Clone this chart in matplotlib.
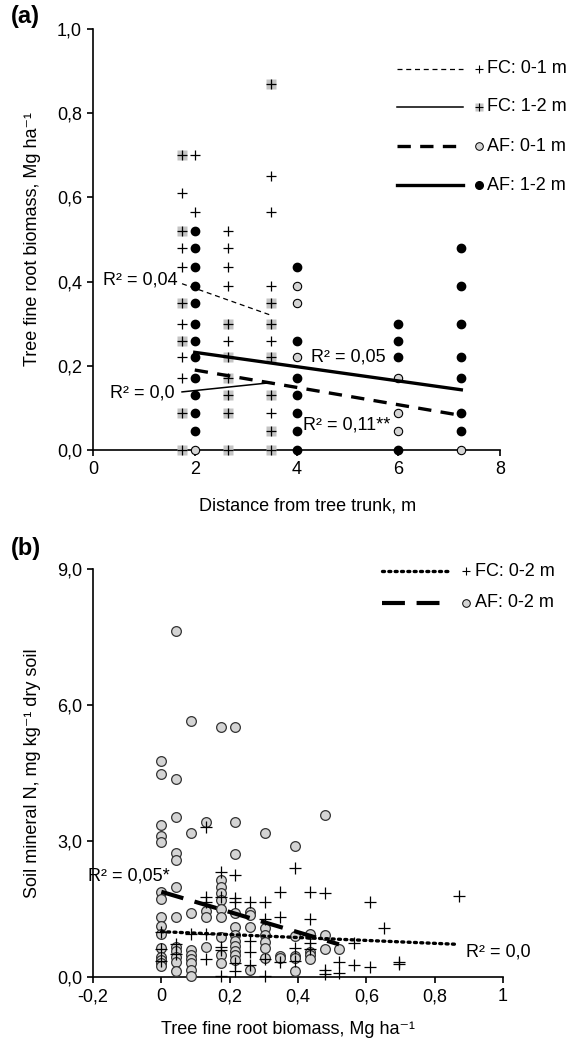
import numpy as np
import matplotlib
matplotlib.use("Agg")
import matplotlib.pyplot as plt

plt.rcParams['font.family'] = ['Liberation Sans', 'DejaVu Sans']
plt.rcParams['font.size'] = 13

# ---- panel (a): fine root biomass vs distance from trunk ----
# FC 0-1 m  (black +)
fc01_a = {
    1.75: [0.61, 0.48, 0.435, 0.30, 0.22, 0.17],
    2.0: [0.70, 0.565],
    2.65: [0.52, 0.48, 0.435, 0.39, 0.26],
    3.5: [0.65, 0.565, 0.39, 0.26, 0.087],
}
# FC 1-2 m  (+ on grey square)
fc12_a = {
    1.75: [0.70, 0.52, 0.35, 0.26, 0.087, 0.0],
    2.65: [0.30, 0.22, 0.17, 0.13, 0.087, 0.0],
    3.5: [0.87, 0.35, 0.30, 0.22, 0.13, 0.044, 0.0],
}
# AF 0-1 m  (grey circle)
af01_a = {
    2.0: [0.0],
    4.0: [0.39, 0.35, 0.22],
    6.0: [0.17, 0.087, 0.044],
    7.24: [0.0],
}
# AF 1-2 m  (black circle)
af12_a = {
    2.0: [0.52, 0.48, 0.435, 0.39, 0.35, 0.30, 0.26, 0.22, 0.17, 0.13, 0.087, 0.044],
    4.0: [0.435, 0.26, 0.17, 0.13, 0.087, 0.044, 0.0],
    6.0: [0.30, 0.26, 0.22, 0.0],
    7.24: [0.48, 0.39, 0.30, 0.22, 0.17, 0.087, 0.044],
}
fit_fc01_a = ([1.75, 3.5], [0.395, 0.32])
fit_fc12_a = ([1.75, 3.5], [0.138, 0.16])
fit_af01_a = ([2.0, 7.24], [0.19, 0.082])
fit_af12_a = ([2.0, 7.24], [0.232, 0.143])

# ---- panel (b): soil mineral N vs fine root biomass ----
af02_b = {
    0.0: [4.77, 4.48, 3.35, 3.12, 2.98, 1.88, 1.72, 1.32, 1.12, 0.95, 0.65, 0.45, 0.37, 0.30, 0.25],
    0.044: [7.64, 4.36, 3.53, 2.73, 2.58, 1.98, 1.32, 0.67, 0.57, 0.45, 0.34, 0.14],
    0.087: [5.65, 3.17, 1.41, 0.60, 0.49, 0.39, 0.30, 0.15, 0.02],
    0.13: [3.42, 1.45, 1.33, 0.66],
    0.174: [5.51, 2.13, 1.99, 1.86, 1.70, 1.50, 1.33, 0.88, 0.49, 0.30],
    0.217: [5.51, 3.43, 2.71, 1.42, 1.10, 0.93, 0.80, 0.68, 0.58, 0.49, 0.37],
    0.26: [1.44, 1.37, 1.10, 0.15],
    0.304: [3.17, 1.07, 0.93, 0.78, 0.63, 0.43],
    0.348: [0.46, 0.43],
    0.391: [2.89, 0.90, 0.46, 0.42, 0.14],
    0.435: [0.95, 0.55, 0.48, 0.40],
    0.478: [3.58, 0.92, 0.61],
    0.52: [0.61],
}
fc02_b = {
    0.0: [1.00, 0.62, 0.35],
    0.044: [0.72, 0.50],
    0.087: [0.95],
    0.13: [3.30, 1.77, 1.66, 0.95, 0.40],
    0.174: [2.32, 1.76, 0.67, 0.60, 0.02],
    0.217: [2.25, 1.74, 1.66, 0.30, 0.13],
    0.26: [1.66, 0.80, 0.56, 0.27],
    0.304: [1.66, 1.29, 0.39, 0.02],
    0.348: [1.88, 1.32, 0.32],
    0.391: [2.40, 0.63, 0.35],
    0.435: [1.88, 1.27, 0.74, 0.62],
    0.478: [1.86, 0.15, 0.07],
    0.52: [0.32, 0.08],
    0.565: [0.74, 0.27],
    0.61: [1.65, 0.21],
    0.653: [1.09],
    0.696: [0.32, 0.28],
    0.87: [1.78],
}
fit_af02_b = ([0.0, 0.52], [1.88, 0.72])
fit_fc02_b = ([0.0, 0.87], [1.0, 0.72])

GREY_FILL = "#d4d4d4"
GREY_SQ = "#c4c4c4"
UNIT = "Mg ha\u207b\u00b9"


def flat(d):
    xs, ys = [], []
    for x, vals in d.items():
        xs += [x] * len(vals)
        ys += vals
    return xs, ys


def style_axes(ax):
    for s in ["top", "right"]:
        ax.spines[s].set_visible(False)
    for s in ["left", "bottom"]:
        ax.spines[s].set_linewidth(1.2)
    ax.tick_params(direction="out", length=4, width=1.2, labelsize=13, pad=4)


def comma(v, nd):
    return f"{v:.{nd}f}".replace(".", ",")


def draw_fc12(ax, x, y, ms=6.5, **kw):
    ax.plot(x, y, "s", ms=ms, color=GREY_SQ, mec="none", clip_on=False, **kw)
    ax.plot(x, y, "+", ms=ms, color="black", mew=0.9, clip_on=False, **kw)


fig = plt.figure(figsize=(5.83, 10.49), dpi=100)

# ================= panel a =================
ax = fig.add_axes([93 / 583, 1 - 450 / 1049, 407 / 583, 421 / 1049])
style_axes(ax)

x, y = flat(fc12_a)
draw_fc12(ax, x, y, zorder=3)
x, y = flat(fc01_a)
ax.plot(x, y, "+", ms=6.5, color="black", mew=0.9, clip_on=False, zorder=3)
x, y = flat(af12_a)
ax.plot(x, y, "o", ms=6, color="black", clip_on=False, zorder=3)
x, y = flat(af01_a)
ax.plot(x, y, "o", ms=6, mfc=GREY_FILL, mec="black", mew=0.8, clip_on=False, zorder=3)

ls_fc01 = dict(color="black", lw=0.9, dashes=(4, 3))
ls_fc12 = dict(color="black", lw=1.1)
ls_af01 = dict(color="black", lw=2.4, dashes=(4, 2.8))
ls_af12 = dict(color="black", lw=2.4)
ax.plot(*fit_fc01_a, zorder=4, **ls_fc01)
ax.plot(*fit_fc12_a, zorder=4, **ls_fc12)
ax.plot(*fit_af01_a, zorder=4, **ls_af01)
ax.plot(*fit_af12_a, zorder=4, **ls_af12)

ax.text(1.67, 0.404, "R² = 0,04", ha="right", va="center", fontsize=13)
ax.text(1.61, 0.135, "R² = 0,0", ha="right", va="center", fontsize=13)
ax.text(4.29, 0.222, "R² = 0,05", ha="left", va="center", fontsize=13)
ax.text(4.13, 0.06, "R² = 0,11**", ha="left", va="center", fontsize=13)

ax.set_xlim(0, 8)
ax.set_ylim(0, 1)
ax.set_xticks([0, 2, 4, 6, 8])
ax.set_yticks(np.arange(0, 1.01, 0.2))
ax.set_yticklabels([comma(v, 1) for v in np.arange(0, 1.01, 0.2)])
ax.set_xlabel("Distance from tree trunk, m", fontsize=13)
ax.set_ylabel("Tree fine root biomass, " + UNIT, fontsize=13)
ax.xaxis.set_label_coords(0.526, -0.112)
ax.yaxis.set_label_coords(-0.128, 0.5)

# legend (a)
rows = [0.905, 0.815, 0.722, 0.629]
labels = ["FC: 0-1 m", "FC: 1-2 m", "AF: 0-1 m", "AF: 1-2 m"]
lstyles = [ls_fc01, ls_fc12, ls_af01, ls_af12]
for i, (r, lab, lst) in enumerate(zip(rows, labels, lstyles)):
    ax.plot([0.747, 0.909], [r, r], transform=ax.transAxes, clip_on=False, **lst)
    if i == 0:
        ax.plot(0.948, r, "+", ms=6, color="black", mew=0.8, transform=ax.transAxes, clip_on=False)
    elif i == 1:
        ax.plot(0.948, r, "s", ms=6, color=GREY_SQ, mec="none", transform=ax.transAxes, clip_on=False)
        ax.plot(0.948, r, "+", ms=6, color="black", mew=0.8, transform=ax.transAxes, clip_on=False)
    elif i == 2:
        ax.plot(0.948, r, "o", ms=5.5, mfc=GREY_FILL, mec="black", mew=0.7, transform=ax.transAxes, clip_on=False)
    else:
        ax.plot(0.948, r, "o", ms=5.5, color="black", transform=ax.transAxes, clip_on=False)
    ax.text(0.968, r, lab, transform=ax.transAxes, ha="left", va="center", fontsize=13)

fig.text(11 / 583, 1 - 16 / 1049, "(a)", fontsize=17, fontweight="bold", va="center")

# ================= panel b =================
bx = fig.add_axes([93 / 583, 1 - 977 / 1049, 410 / 583, 408 / 1049])
style_axes(bx)

x, y = flat(af02_b)
bx.plot(x, y, "o", ms=7, mfc=GREY_FILL, mec="#333333", mew=0.9, clip_on=False, zorder=3)
x, y = flat(fc02_b)
bx.plot(x, y, "+", ms=8, color="black", mew=0.9, clip_on=False, zorder=3)

ls_fc02 = dict(color="black", lw=2.4, linestyle=(0, (0.6, 1.3)), dash_capstyle="round")
ls_af02 = dict(color="black", lw=3.0, dashes=(5.5, 2.8))
bx.plot(*fit_fc02_b, zorder=4, **ls_fc02)
bx.plot(*fit_af02_b, zorder=4, **ls_af02)

bx.text(-0.215, 2.23, "R² = 0,05*", ha="left", va="center", fontsize=13)
bx.text(0.891, 0.56, "R² = 0,0", ha="left", va="center", fontsize=13)

bx.set_xlim(-0.2, 1)
bx.set_ylim(0, 9)
xt = [-0.2, 0, 0.2, 0.4, 0.6, 0.8, 1]
bx.set_xticks(xt)
bx.set_xticklabels(["-0,2", "0", "0,2", "0,4", "0,6", "0,8", "1"])
yt = [0, 3, 6, 9]
bx.set_yticks(yt)
bx.set_yticklabels([comma(v, 1) for v in yt])
bx.set_xlabel("Tree fine root biomass, " + UNIT, fontsize=13)
bx.set_ylabel("Soil mineral N, mg kg\u207b\u00b9 dry soil", fontsize=13)
bx.xaxis.set_label_coords(0.475, -0.108)
bx.yaxis.set_label_coords(-0.127, 0.5)

rows = [0.995, 0.917]
labels = ["FC: 0-2 m", "AF: 0-2 m"]
for i, (r, lab) in enumerate(zip(rows, labels)):
    lst = ls_fc02 if i == 0 else ls_af02
    bx.plot([0.705, 0.871], [r, r], transform=bx.transAxes, clip_on=False, **lst)
    if i == 0:
        bx.plot(0.909, r, "+", ms=6, color="black", mew=0.8, transform=bx.transAxes, clip_on=False)
    else:
        bx.plot(0.909, r, "o", ms=5.5, mfc=GREY_FILL, mec="black", mew=0.7, transform=bx.transAxes, clip_on=False)
    bx.text(0.932, r, lab, transform=bx.transAxes, ha="left", va="center", fontsize=13)

fig.text(11 / 583, 1 - 549 / 1049, "(b)", fontsize=17, fontweight="bold", va="center")

fig.savefig("out.png", dpi=100)
